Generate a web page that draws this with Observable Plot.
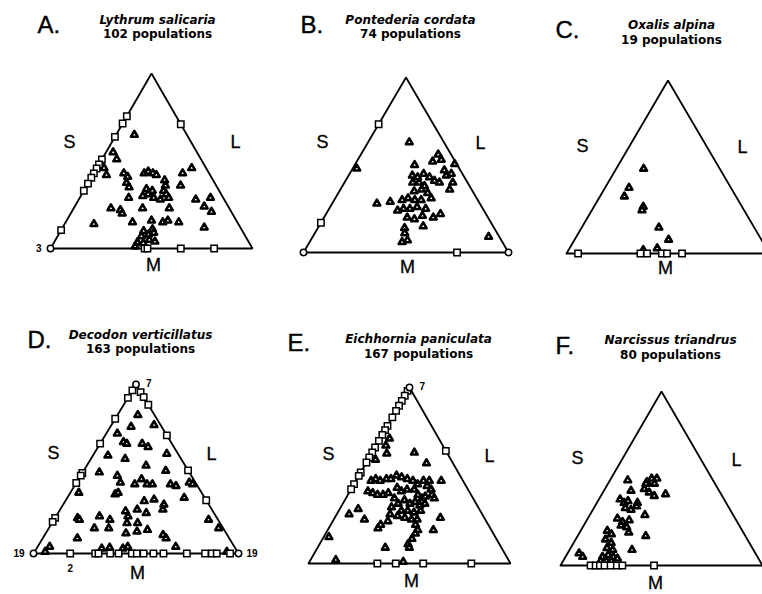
<!DOCTYPE html>
<html>
<head>
<meta charset="utf-8">
<script src="https://cdn.jsdelivr.net/npm/d3@7"></script>
<script src="https://cdn.jsdelivr.net/npm/@observablehq/plot@0.6"></script>
<style>
html,body{margin:0;padding:0;background:#fff;}
#chart{position:relative;width:762px;height:594px;overflow:hidden;background:#fff;}
</style>
</head>
<body>
<div id="chart"></div>
<script>
// Morph frequencies per population, as [S, M]; L = 1 - S - M.
// Points with one morph missing lie on an edge, with two missing on a vertex.
const lythrumPts = [
  [0.09,0.65],[0.035,0.55],[0.073,0.51],[0.067,0.42],[0.035,0.46],[0.148,0.43],[0.177,0.41],[0.189,0.375],
  [0.214,0.35],[0.249,0.43],[0.264,0.44],[0.292,0.43],[0.314,0.42],[0.37,0.39],[0.389,0.36],[0.395,0.33],
  [0.439,0.43],[0.469,0.46],[0.464,0.36],[0.305,0.34],[0.339,0.33],[0.328,0.31],[0.366,0.29],[0.404,0.28],
  [0.418,0.31],[0.44,0.29],[0.242,0.29],[0.307,0.30],[0.184,0.23],[0.236,0.22],[0.255,0.20],[0.341,0.23],
  [0.473,0.23],[0.579,0.28],[0.647,0.29],[0.641,0.24],[0.692,0.21],[0.145,0.14],[0.331,0.15],[0.42,0.16],
  [0.481,0.15],[0.501,0.16],[0.56,0.15],[0.701,0.12],[0.411,0.10],[0.45,0.11],[0.415,0.07],[0.445,0.08],
  [0.466,0.09],[0.413,0.035],[0.444,0.03],[0.464,0.05],[0.497,0.04],[0.413,0.012],
  [0,0.756],[0,0.714],[0,0.638],[0,0.509],[0,0.48],[0,0.457],[0,0.429],[0,0.404],[0,0.371],[0,0.33],[0,0.105],
  [0.29,0.71],
  [0.466,0],[0.48,0],[0.645,0],[0.81,0],
  [0,0]
];
const pontederiaPts = [
  [0.201,0.63],[0.292,0.50],[0.37,0.52],[0.377,0.56],[0.407,0.53],[0.311,0.44],[0.342,0.43],[0.361,0.45],
  [0.40,0.43],[0.434,0.41],[0.452,0.47],[0.477,0.44],[0.496,0.45],[0.528,0.40],[0.533,0.36],[0.333,0.40],
  [0.364,0.40],[0.40,0.38],[0.463,0.40],[0.365,0.35],[0.396,0.36],[0.436,0.34],[0.468,0.31],[0.218,0.28],
  [0.278,0.29],[0.331,0.30],[0.355,0.31],[0.393,0.30],[0.424,0.30],[0.339,0.24],[0.363,0.25],[0.394,0.25],
  [0.424,0.26],[0.471,0.25],[0.406,0.20],[0.446,0.19],[0.475,0.21],[0.533,0.20],[0.558,0.22],[0.509,0.15],
  [0.423,0.14],[0.439,0.11],[0.451,0.06],[0.472,0.07],[0.858,0.09],[0.485,0.505],[0.02,0.48],
  [0,0.733],[0,0.17],
  [0.749,0],
  [0,0],[1,0]
];
const oxalisPts = [
  [0.135,0.49],[0.118,0.38],[0.12,0.33],[0.243,0.27],[0.247,0.25],[0.38,0.15],[0.463,0.08],[0.432,0.03],[0.368,0.02],
  [0.057,0],[0.364,0],[0.397,0],[0.47,0],[0.495,0],[0.569,0]
];
const decodonPts = [
  [0.12,0.88],[0.099,0.82],[0.208,0.76],[0.101,0.75],[0.054,0.71],[0.109,0.66],[0.13,0.65],[0.205,0.65],
  [0.244,0.63],[0.355,0.59],[0.073,0.58],[0.167,0.56],[0.289,0.52],[0.40,0.49],[0.081,0.48],[0.214,0.42],
  [0.289,0.41],[0.307,0.44],[0.349,0.41],[0.375,0.41],[0.463,0.41],[0.495,0.40],[0.55,0.42],[0.571,0.41],
  [0.223,0.35],[0.233,0.36],[0.57,0.33],[0.041,0.36],[0.385,0.31],[0.428,0.32],[0.491,0.29],[0.501,0.26],
  [0.11,0.21],[0.124,0.20],[0.212,0.22],[0.273,0.20],[0.324,0.25],[0.351,0.22],[0.366,0.18],[0.376,0.26],
  [0.43,0.24],[0.418,0.18],[0.486,0.14],[0.44,0.13],[0.391,0.12],[0.222,0.15],[0.292,0.15],[0.169,0.09],
  [0.577,0.11],[0.602,0.09],[0.674,0.04],[0.754,0.20],[0.828,0.15],[0.059,0.04],[0.052,0.01],[0.318,0.03],
  [0.354,0.035],[0.421,0.03],[0.44,0.04],[0.938,0.01],[0.179,0.46],
  [0,0.965],[0,0.921],[0,0.797],[0,0.65],[0,0.476],[0,0.461],[0,0.417],[0,0.211],[0,0.187],
  [0.045,0.955],[0.075,0.925],[0.301,0.699],[0.508,0.492],[0.685,0.315],
  [0.179,0],[0.301,0],[0.317,0],[0.374,0],[0.415,0],[0.48,0],[0.504,0],[0.537,0],[0.585,0],[0.634,0],
  [0.748,0],[0.837,0],[0.870,0],[0.894,0],[0.959,0],
  [0,0],[1,0],[0,1]
];
const eichhorniaPts = [
  [0.046,0.71],[0.048,0.67],[0.209,0.63],[0.299,0.57],[0.422,0.47],[0.363,0.47],[0.075,0.47],[0.093,0.48],
  [0.12,0.47],[0.146,0.48],[0.168,0.48],[0.186,0.50],[0.216,0.49],[0.249,0.48],[0.282,0.47],[0.315,0.45],
  [0.334,0.47],[0.367,0.44],[0.397,0.42],[0.416,0.39],[0.089,0.41],[0.118,0.40],[0.147,0.39],[0.174,0.39],
  [0.195,0.40],[0.224,0.43],[0.255,0.41],[0.278,0.42],[0.313,0.42],[0.347,0.39],[0.377,0.37],[0.388,0.38],
  [0.24,0.37],[0.274,0.34],[0.295,0.36],[0.332,0.34],[0.353,0.35],[0.386,0.33],[0.406,0.34],[0.31,0.30],
  [0.341,0.30],[0.377,0.29],[0.405,0.30],[0.251,0.32],[0.264,0.28],[0.306,0.27],[0.347,0.26],[0.385,0.25],
  [0.413,0.25],[0.273,0.24],[0.42,0.22],[0.446,0.19],[0.444,0.17],[0.523,0.19],[0.442,0.14],[0.438,0.11],
  [0.454,0.09],[0.523,0.26],[0.438,0.37],[0.061,0.28],[0.091,0.31],[0.152,0.25],[0.244,0.20],[0.247,0.22],
  [0.335,0.09],[0.026,0.15],[0.037,0.59],[0.075,0.625],[0.125,0.02],[0.464,0.01],
  [0,0.981],[0,0.953],[0,0.924],[0,0.896],[0,0.867],[0,0.83],[0,0.782],[0,0.758],[0,0.731],[0,0.697],
  [0,0.659],[0,0.631],[0,0.602],[0,0.574],[0,0.517],[0,0.498],[0,0.451],[0,0.422],
  [0.36,0.64],
  [0.341,0],[0.432,0],[0.568,0],[0.806,0],
  [0,1]
];
const narcissusPts = [
  [0.088,0.49],[0.188,0.48],[0.201,0.50],[0.227,0.50],[0.188,0.47],[0.23,0.47],[0.195,0.44],[0.229,0.42],
  [0.264,0.40],[0.315,0.41],[0.134,0.43],[0.105,0.38],[0.135,0.36],[0.149,0.37],[0.201,0.36],[0.156,0.33],
  [0.189,0.32],[0.207,0.34],[0.273,0.29],[0.147,0.27],[0.182,0.25],[0.21,0.26],[0.185,0.23],[0.218,0.22],
  [0.243,0.19],[0.337,0.17],[0.132,0.20],[0.162,0.18],[0.148,0.15],[0.186,0.13],[0.18,0.10],[0.214,0.09],
  [0.309,0.09],[0.183,0.05],[0.206,0.06],[0.236,0.05],[0.262,0.04],[0.186,0.025],[0.214,0.025],[0.239,0.025],
  [0.057,0.07],[0.085,0.05],
  [0.149,0],[0.174,0],[0.195,0],[0.218,0],[0.248,0],[0.279,0],[0.306,0],[0.463,0]
];
// Number of populations sharing a vertex / edge position, as [S, M, count]
const lythrumCounts = [[0,0,"3"]];
const decodonCounts = [[0,0,"19"],[1,0,"19"],[0,1,"7"],[0.179,0,"2"]];
const eichhorniaCounts = [[0,1,"7"]];

const letters = ["A.","B.","C.","D.","E.","F."];
const species = ["Lythrum salicaria","Pontederia cordata","Oxalis alpina","Decodon verticillatus","Eichhornia paniculata","Narcissus triandrus"];
const populations = ["102 populations","74 populations","19 populations","163 populations","167 populations","80 populations"];
const axisLabels = ["S","L","M"];

// Page layout (pixels): triangle base ends, base and apex heights, text anchors
const layout = [
  {tri:{x0:50,x1:252,yBase:248,yApex:73}, letter:[37,32], title:[157,23,37.5], S:[69,142], L:[235,142], M:[153,265]},
  {tri:{x0:303,x1:508,yBase:252,yApex:77}, letter:[300,32], title:[410,23,37.5], S:[322,142], L:[480,143], M:[407,267]},
  {tri:{x0:566,x1:769,yBase:253,yApex:80}, letter:[555,37], title:[671,28,43], S:[582,146], L:[742,147], M:[665,268]},
  {tri:{x0:33,x1:238,yBase:553,yApex:384}, letter:[27,347], title:[140,338,352], S:[53,453], L:[211,454], M:[137,573]},
  {tri:{x0:308,x1:510,yBase:563,yApex:387}, letter:[287,350], title:[418,342,357], S:[328,454], L:[489,456], M:[411,581]},
  {tri:{x0:560,x1:762,yBase:565,yApex:391}, letter:[555,353], title:[670,343,358], S:[577,458], L:[736,460], M:[655,583]}
];
const pointSets = [lythrumPts, pontederiaPts, oxalisPts, decodonPts, eichhorniaPts, narcissusPts];
const countSets = [lythrumCounts, [], [], decodonCounts, eichhorniaCounts, []];

const SVG_W = 780, SVG_H = 594;
const chart = document.getElementById("chart");
const tx = d => d.S + d.M / 2;   // ternary -> horizontal fraction of base
const ty = d => d.M;             // ternary -> fraction of height
const eps = 1e-6;
function kind(d) {
  const z = (d.S < eps) + (d.M < eps) + (Math.abs(d.L) < eps);
  return z >= 2 ? "vertex" : z === 1 ? "edge" : "inner";
}
const sans = "'Liberation Sans', Arial, Helvetica, sans-serif";
const titleFont = "'DejaVu Sans', sans-serif";

layout.forEach((lay, i) => {
  const t = lay.tri;
  const px = X => (X - t.x0) / (t.x1 - t.x0);
  const py = Y => (t.yBase - Y) / (t.yBase - t.yApex);
  const pts = pointSets[i].map(([S, M]) => ({S, M, L: 1 - S - M}));
  pts.forEach(d => d.kind = kind(d));
  const outline = [{S:0,M:0},{S:1,M:0},{S:0,M:1},{S:0,M:0}];
  const counts = countSets[i].map(([S, M, n]) => ({S, M, n}));

  const marks = [
    Plot.line(outline, {x: tx, y: ty, stroke: "black", strokeWidth: 1.8, strokeLinejoin: "miter"}),
    Plot.dot(pts.filter(d => d.kind === "inner"), {x: tx, y: ty, symbol: "triangle", r: 2.5, fill: "white", stroke: "black", strokeWidth: 2.6, strokeLinejoin: "round"}),
    Plot.dot(pts.filter(d => d.kind === "edge"), {x: tx, y: ty, symbol: "square", r: 3.6, fill: "white", stroke: "black", strokeWidth: 1.5}),
    Plot.dot(pts.filter(d => d.kind === "vertex"), {x: tx, y: ty, symbol: "circle", r: 3.2, fill: "white", stroke: "black", strokeWidth: 1.5}),
    Plot.text([letters[i]], {x: () => px(lay.letter[0]), y: () => py(lay.letter[1]), text: d => d, textAnchor: "start", lineAnchor: "bottom", fontSize: 24, fontFamily: sans, fill: "black", stroke: "black", strokeWidth: 0.4}),
    Plot.text([species[i]], {x: () => px(lay.title[0]), y: () => py(lay.title[1]), text: d => d, textAnchor: "middle", lineAnchor: "bottom", fontSize: 12, fontWeight: "bold", fontStyle: "italic", fontFamily: titleFont, fill: "black"}),
    Plot.text([populations[i]], {x: () => px(lay.title[0]), y: () => py(lay.title[2]), text: d => d, textAnchor: "middle", lineAnchor: "bottom", fontSize: 12, fontWeight: "bold", fontFamily: titleFont, fill: "black"}),
    Plot.text(axisLabels, {x: d => px(lay[d][0]), y: d => py(lay[d][1]), text: d => d, textAnchor: "middle", lineAnchor: "middle", fontSize: 18, fontFamily: sans, fill: "black", stroke: "black", strokeWidth: 0.3})
  ];
  counts.forEach(c => {
    let opts;
    if (c.M > 1 - eps) opts = {dx: 10, dy: -1, textAnchor: "start"};
    else if (c.S < eps && c.M < eps) opts = {dx: -9, textAnchor: "end"};
    else if (c.S > 1 - eps) opts = {dx: 8, textAnchor: "start"};
    else opts = {dy: 15, textAnchor: "middle"};
    marks.push(Plot.text([c], {x: tx, y: ty, text: "n", lineAnchor: "middle", fontSize: 10, fontWeight: "bold", fontFamily: sans, fill: "black", ...opts}));
  });

  const svg = Plot.plot({
    width: SVG_W, height: SVG_H,
    marginLeft: t.x0, marginRight: SVG_W - t.x1,
    marginTop: t.yApex, marginBottom: SVG_H - t.yBase,
    x: {domain: [0, 1], axis: null},
    y: {domain: [0, 1], axis: null},
    style: "position:absolute;left:0;top:0;background:transparent;max-width:none;overflow:visible;",
    marks
  });
  chart.appendChild(svg);
});
</script>
</body>
</html>
